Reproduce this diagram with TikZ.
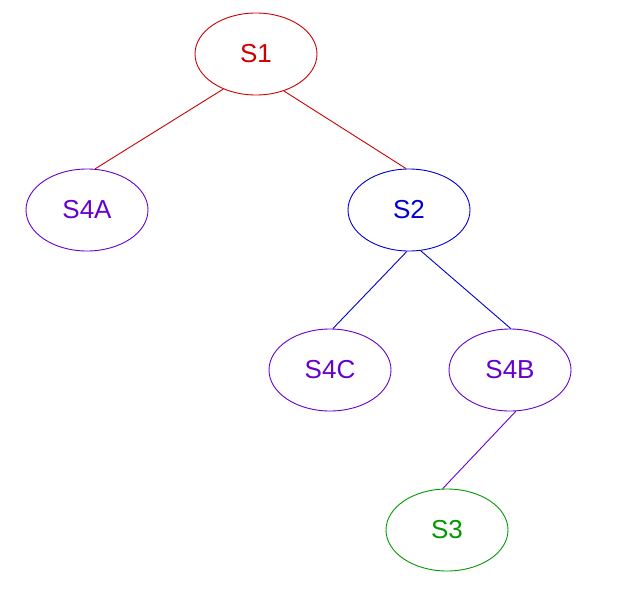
\documentclass[tikz,border=0pt]{standalone}
\usepackage{fontspec}
\setmainfont{Liberation Sans}
\usetikzlibrary{shapes.geometric}
\definecolor{cred}{HTML}{CC0000}
\definecolor{cblue}{HTML}{0000CC}
\definecolor{cpurp}{HTML}{6600CC}
\definecolor{cgreen}{HTML}{009900}
\tikzset{
  st/.style={ellipse, draw, line width=0.9pt, minimum width=122pt, minimum height=82pt, inner sep=0pt, font=\fontsize{26}{30}\selectfont},
  edge/.style={line width=0.9pt}
}
\begin{document}
\begin{tikzpicture}[x=1pt,y=-1pt]
\useasboundingbox (0,0) rectangle (617,610);
\node[st, draw=cred, text=cred] (s1) at (256,54) {S1};
\node[st, draw=cpurp, text=cpurp] (s4a) at (87,210) {S4A};
\node[st, draw=cblue, text=cblue] (s2) at (409,210) {S2};
\node[st, draw=cpurp, text=cpurp] (s4c) at (330,370) {S4C};
\node[st, draw=cpurp, text=cpurp] (s4b) at (510,370) {S4B};
\node[st, draw=cgreen, text=cgreen] (s3) at (447,530) {S3};
\draw[edge, cred] (s1.227) -- (s4a.79);
\draw[edge, cred] (s1.307) -- (s2.94);
\draw[edge, cblue] (s2.267) -- (s4c.86);
\draw[edge, cblue] (s2.286) -- (s4b.89);
\draw[edge, cpurp] (s4b.278) -- (s3.96);
\end{tikzpicture}
\end{document}
